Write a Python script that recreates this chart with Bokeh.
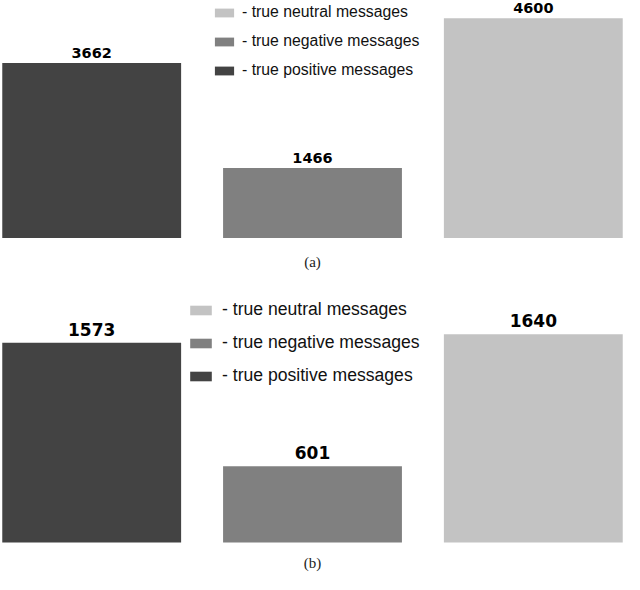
from bokeh.plotting import figure
from bokeh.models import ColumnDataSource, FactorRange, Range1d, Legend, LegendItem, Label
from bokeh.layouts import column
from bokeh.embed import file_html
from bokeh.resources import INLINE
from bokeh.core.properties import value

# data
categories = ["positive", "negative", "neutral"]
legend_labels = ["- true positive messages", "- true negative messages", "- true neutral messages"]
counts_a = [3662, 1466, 4600]
counts_b = [1573, 601, 1640]
bar_colors = ["#434343", "#808080", "#c3c3c3"]


def make_panel(counts, caption, height, y_lo, y_hi, num_size, num_gap,
               leg_size, leg_xy, glyph_w, glyph_h, spacing, standoff, caption_y):
    src = ColumnDataSource(dict(
        cat=categories, n=counts, color=bar_colors,
        txt=[str(c) for c in counts],
    ))
    p = figure(width=624, height=height,
               x_range=FactorRange(*categories, range_padding=-0.058),
               y_range=Range1d(y_lo, y_hi),
               output_backend="svg", toolbar_location=None, min_border=0)
    p.axis.visible = False
    p.grid.visible = False
    p.outline_line_color = None

    r = p.vbar(x="cat", top="n", bottom=0, width=0.81, source=src,
               fill_color="color", line_color=None)
    p.text(x="cat", y="n", text="txt", source=src, text_align="center",
           text_baseline="bottom", y_offset=-num_gap,
           text_font=value("DejaVu Sans"), text_font_style="bold",
           text_font_size=num_size, text_color="#000000")

    # legend lists neutral first, positive last
    items = [LegendItem(label=legend_labels[i], renderers=[r], index=i) for i in (2, 1, 0)]
    leg = Legend(items=items, location=leg_xy, orientation="vertical",
                 glyph_width=glyph_w, glyph_height=glyph_h,
                 label_text_font="Liberation Sans", label_text_font_size=leg_size,
                 label_text_color="#111111", label_standoff=standoff, label_height=20,
                 spacing=spacing, padding=0, margin=0,
                 border_line_color=None, background_fill_alpha=0)
    p.add_layout(leg)

    p.add_layout(Label(x=312, y=caption_y, x_units="screen", y_units="screen",
                       text=caption, text_align="center", text_baseline="middle",
                       text_font="Liberation Serif", text_font_size="15px",
                       text_color="#222222"))
    return p


pa = make_panel(counts_a, "(a)", 284, -973, 4969, "14.5px", 5,
                "15.8px", (212, 204), 24, 11, 9, 6, 23)
pb = make_panel(counts_b, "(b)", 290, -252, 2031, "17px", 7,
                "17.6px", (187, 188), 27, 12, 12, 8, 12)

layout = column(pa, pb)
open("out.html", "w").write(file_html(layout, INLINE))
